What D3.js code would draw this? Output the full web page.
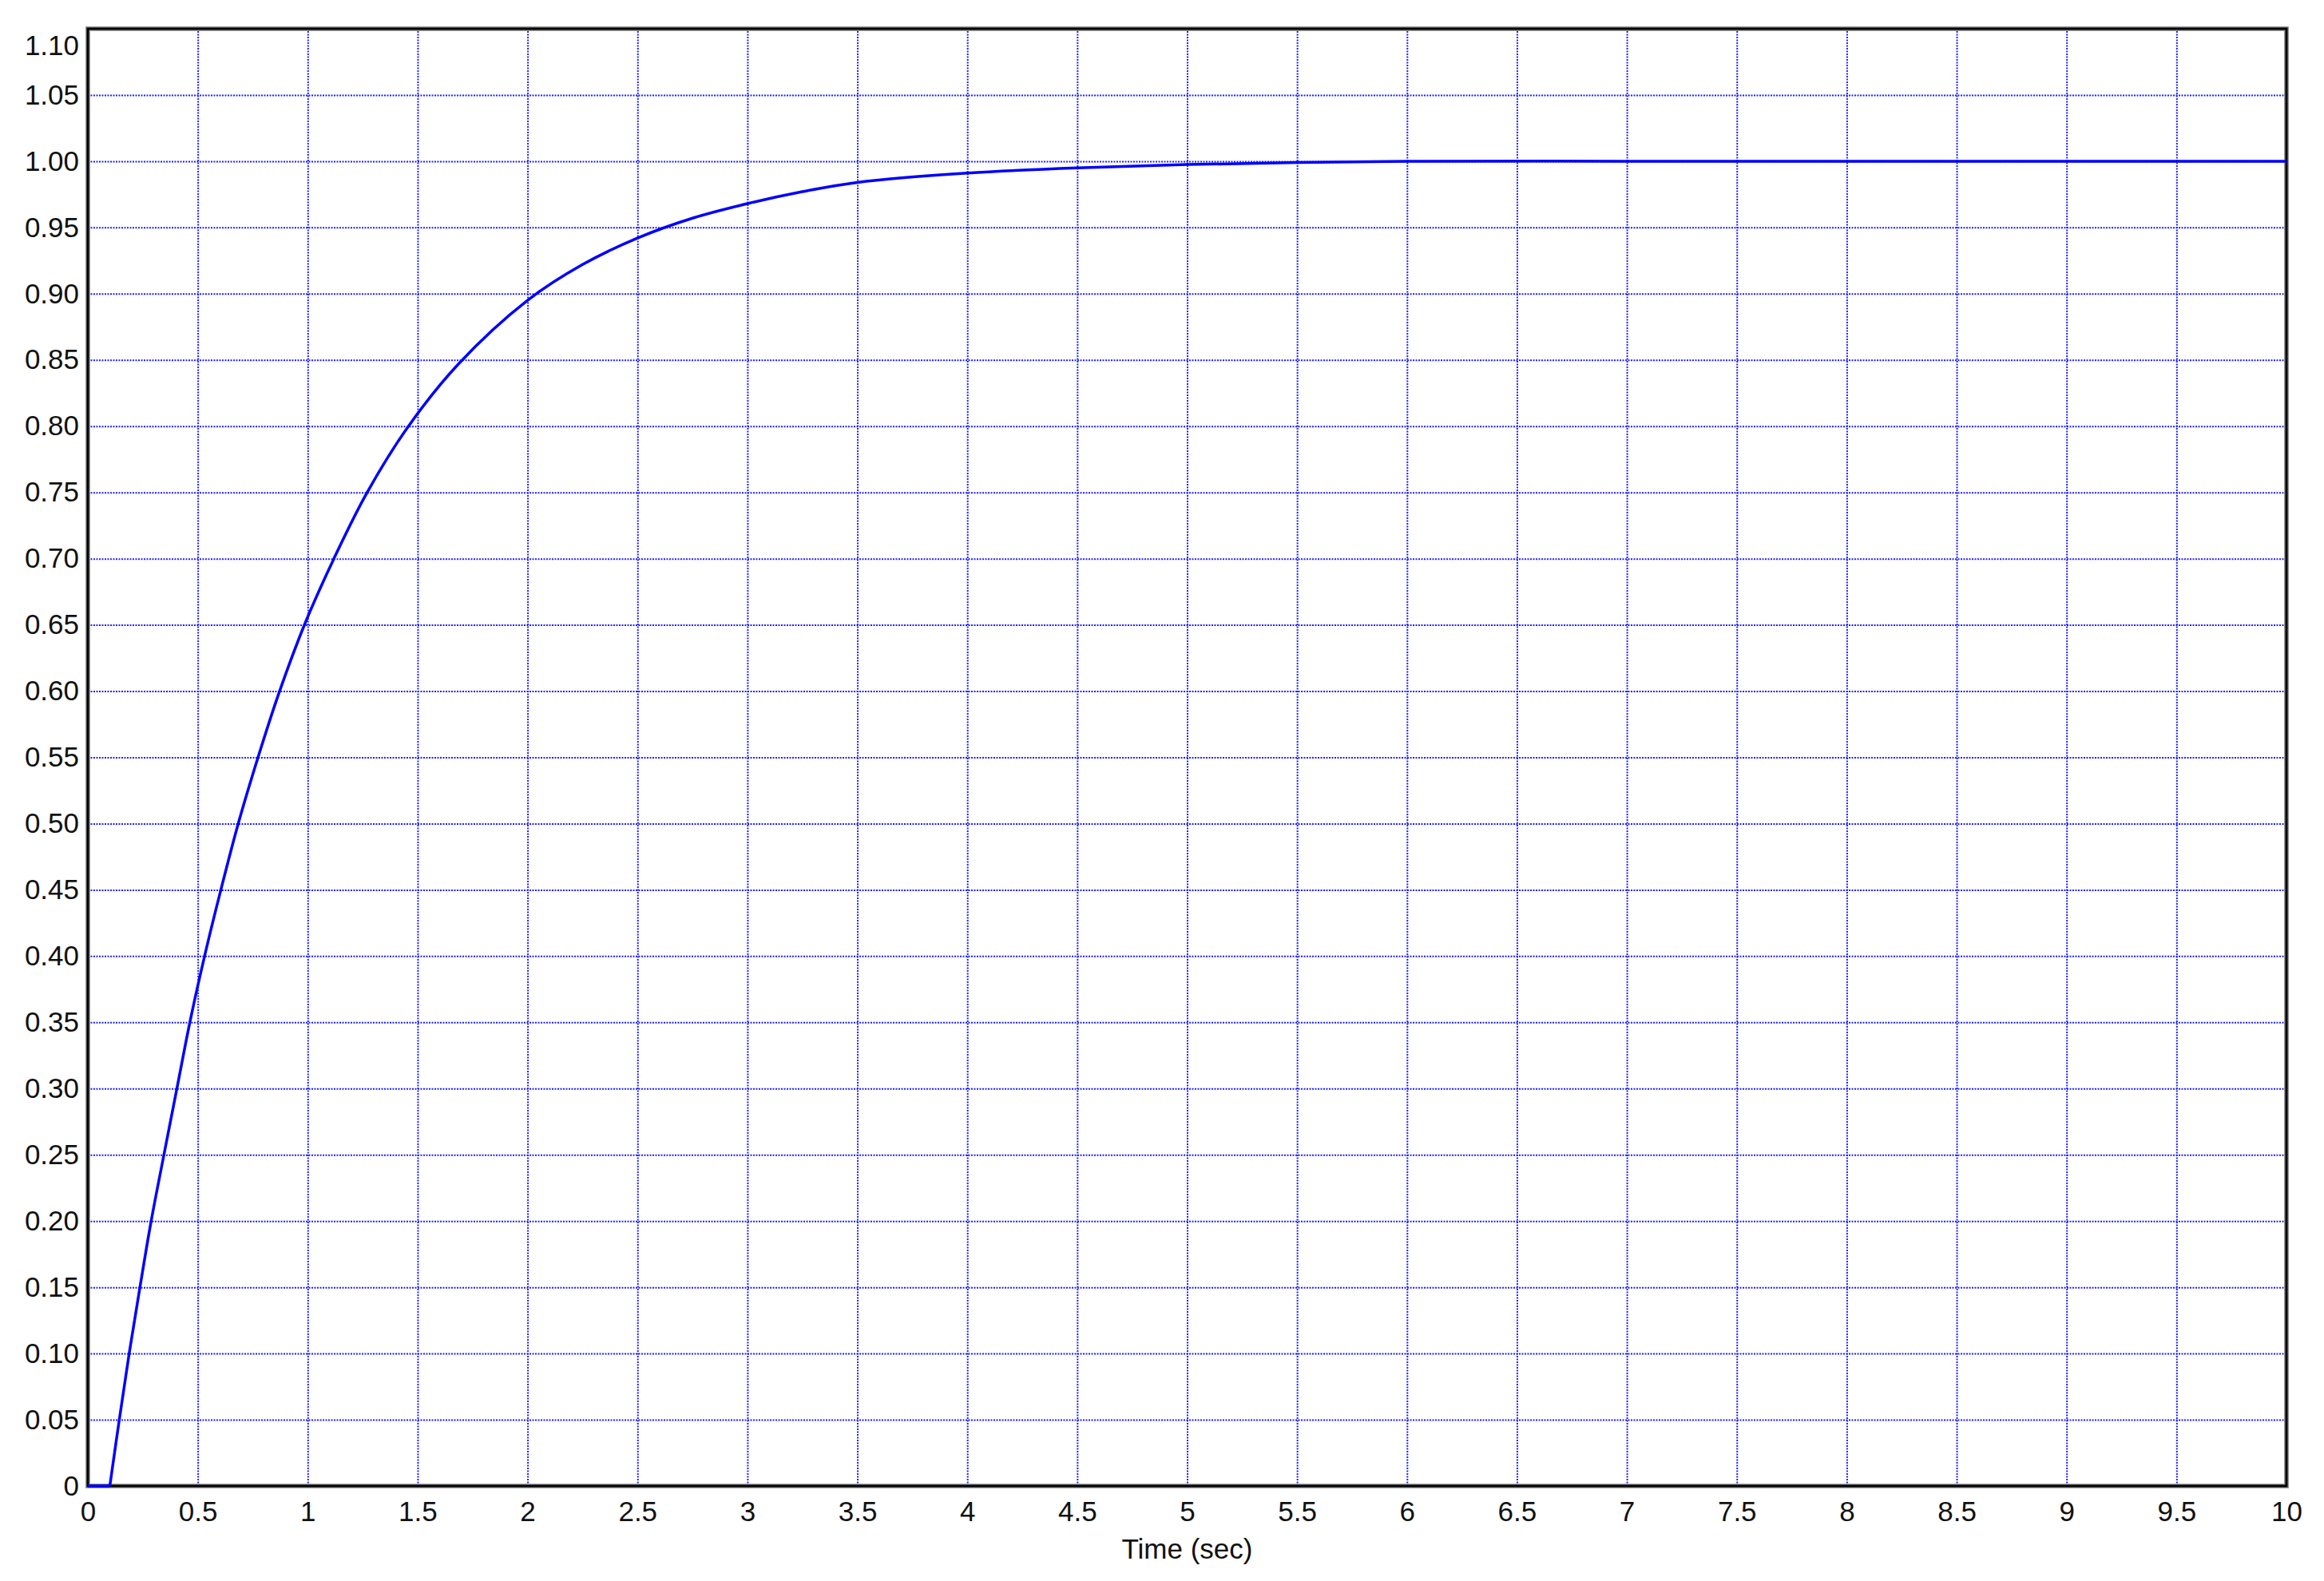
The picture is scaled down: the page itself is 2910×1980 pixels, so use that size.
<!DOCTYPE html>
<html>
<head>
<meta charset="utf-8">
<script src="https://cdn.jsdelivr.net/npm/d3@7"></script>
<style>
  body { margin: 0; background: #fff; }
  svg { display: block; }
  text { font-family: Arial, "Liberation Sans", sans-serif; }
</style>
</head>
<body>
<div id="holder"></div>
<script>
const w = 2910;
const h = 1980;
const margin = { top: 36, right: 47, bottom: 119, left: 110 };

const timeSec = [0, 0.1, 0.143, 0.188, 0.237, 0.288, 0.346, 0.405, 0.464, 0.531, 0.605, 0.684,
    0.774, 0.868, 0.99, 1.119, 1.267, 1.454, 1.686, 2.0, 2.25, 2.5, 2.75, 3.0, 3.25, 3.5,
    4.0, 4.5, 5.0, 5.5, 6.0, 7.0, 8.0, 9.0, 10.0];
const response = [0, 0, 0.05, 0.10, 0.15, 0.20, 0.25, 0.30, 0.35, 0.40, 0.45, 0.50,
    0.55, 0.598, 0.652, 0.70, 0.749, 0.799, 0.847, 0.895, 0.922, 0.942, 0.957, 0.968, 0.977, 0.984,
    0.991, 0.995, 0.9975, 0.999, 1.0, 1.0, 1.0, 1.0, 1.0];

const xTicks = [0, 0.5, 1, 1.5, 2, 2.5, 3, 3.5, 4, 4.5, 5, 5.5, 6, 6.5, 7, 7.5, 8, 8.5, 9, 9.5, 10];
const yTicks = [0, 0.05, 0.10, 0.15, 0.20, 0.25, 0.30, 0.35, 0.40, 0.45, 0.50, 0.55,
    0.60, 0.65, 0.70, 0.75, 0.80, 0.85, 0.90, 0.95, 1.00, 1.05, 1.10];

const iw = w - margin.left - margin.right;
const ih = h - margin.top - margin.bottom;

const svg = d3.select("#holder")
    .append("svg")
    .attr("width", w)
    .attr("height", h);

const g = svg.append("g")
    .attr("transform", `translate(${margin.left},${margin.top})`);

// SCALES
const xScale = d3.scaleLinear().domain([0, 10]).range([0, iw]);
const yScale = d3.scaleLinear().domain([0, 1.1]).range([ih, 0]);

// GRID
const gridX = g.append("g")
    .attr("class", "grid")
    .attr("transform", `translate(0,${ih})`)
    .call(d3.axisBottom(xScale).tickValues(xTicks.slice(1, -1)).tickSize(-ih).tickFormat(""));
const gridY = g.append("g")
    .attr("class", "grid")
    .call(d3.axisLeft(yScale).tickValues(yTicks.slice(1, -1)).tickSize(-iw).tickFormat(""));

[gridX, gridY].forEach(gr => {
    gr.select(".domain").remove();
    gr.selectAll("line")
        .attr("stroke", "#1f1fff")
        .attr("stroke-width", 2)
        .attr("stroke-dasharray", "2,1.5");
});

// FRAME
g.append("rect")
    .attr("width", iw).attr("height", ih)
    .attr("fill", "none")
    .attr("stroke", "#999")
    .attr("stroke-width", 6);
g.append("rect")
    .attr("width", iw).attr("height", ih)
    .attr("fill", "none")
    .attr("stroke", "#000")
    .attr("stroke-width", 3);

// AXIS LABELS
const xAxis = g.append("g")
    .attr("transform", `translate(0,${ih})`)
    .call(d3.axisBottom(xScale).tickValues(xTicks).tickSize(0).tickPadding(19)
        .tickFormat(d => d3.format("")(d)));
const yAxis = g.append("g")
    .call(d3.axisLeft(yScale).tickValues(yTicks).tickSize(0).tickPadding(11)
        .tickFormat(d => d === 0 ? "0" : d3.format(".2f")(d)));

[xAxis, yAxis].forEach(ax => {
    ax.select(".domain").remove();
    ax.selectAll("text")
        .attr("fill", "#111")
        .style("font-size", "35px")
        .style("font-family", "Arial, 'Liberation Sans', sans-serif");
});

// top label sits inside the frame
yAxis.selectAll(".tick")
    .filter(d => d === 1.1)
    .select("text")
    .attr("dy", "0.92em");

g.append("text")
    .attr("x", iw / 2)
    .attr("y", ih + 91)
    .attr("text-anchor", "middle")
    .attr("fill", "#111")
    .style("font-size", "35px")
    .text("Time (sec)");

// RESPONSE CURVE
const data = timeSec.map((t, i) => ({ t: t, v: response[i] }));
const x = d => xScale(d.t);
const y = d => yScale(d.v);

// dead time: flat straight piece, then the smooth rise
const deadLine = d3.line().x(x).y(y);
const riseLine = d3.line().x(x).y(y).curve(d3.curveCatmullRom.alpha(0.5));

g.append("path")
    .datum(data.slice(0, 2))
    .attr("fill", "none")
    .attr("stroke", "#0000ff")
    .attr("stroke-width", 3.5)
    .attr("d", deadLine);

g.append("path")
    .datum(data.slice(1))
    .attr("fill", "none")
    .attr("stroke", "#0000ff")
    .attr("stroke-width", 3.5)
    .attr("d", riseLine);
</script>
</body>
</html>
